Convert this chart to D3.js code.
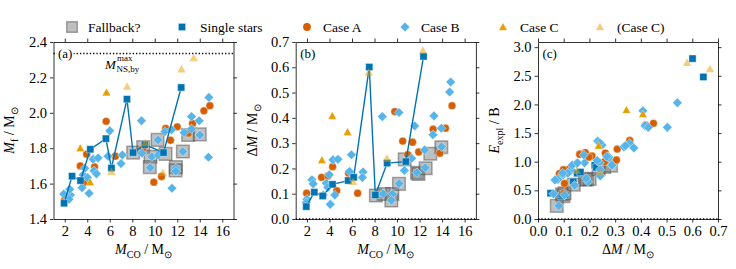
<!DOCTYPE html>
<html>
<head>
<meta charset="utf-8">
<style>
body { margin: 0; background: #fff; }
svg text { font-family: "Liberation Serif", "Times New Roman", Times, serif; fill: #000; }
.axis text { font-size: 14.5px; }
.axis path, .axis line { stroke: #000; stroke-width: 0.8px; }
</style>
</head>
<body>
<script src="https://cdn.jsdelivr.net/npm/d3@7"></script>
<script>

// ---- tick values ----
var mcoTicks = [2, 4, 6, 8, 10, 12, 14, 16];
var mfTicks = [1.4, 1.6, 1.8, 2.0, 2.2, 2.4];
var dmTicks = [0.0, 0.1, 0.2, 0.3, 0.4, 0.5, 0.6, 0.7];
var eTicks = [0.0, 0.5, 1.0, 1.5, 2.0, 2.5, 3.0];
var mNSmax = 2.335;

// ---- single stars (connected in a and b) ----
var singleMco = [1.94, 2.65, 3.4, 4.27, 5.66, 6.15, 7.53, 8.07, 9.12, 10.78, 12.35];
var singleMf  = [1.489, 1.642, 1.617, 1.794, 1.854, 1.688, 2.077, 1.775, 1.82, 1.775, 2.143];
var singleDm  = [0.049, 0.106, 0.091, 0.137, 0.152, 0.165, 0.601, 0.095, 0.221, 0.227, 0.643];
var singleE   = [0.45, 0.42, 0.40, 0.65, 0.80, 0.82, 2.80, 0.43, 0.94, 0.90, 2.48];

// ---- case A (circles) ----
var caseA_a = [[2.0,1.51],[3.38,1.70],[3.72,1.605],[3.95,1.766],[4.65,1.694],[5.68,1.952],[6.5,1.755],
  [8.95,1.797],[9.92,1.608],[10.6,1.64],[10.97,1.912],[11.4,1.845],[12.0,1.921],[13.0,1.885],
  [13.36,1.94],[14.37,2.011],[14.9,2.04]];
var caseA_b = [[1.97,0.102],[3.3,0.165],[3.86,0.17],[4.28,0.207],[4.64,0.112],[5.7,0.181],[6.5,0.102],
  [9.8,0.425],[10.5,0.308],[11.38,0.304],[10.94,0.254],[11.92,0.265],[13.2,0.355],[14.3,0.359],
  [14.88,0.448],[13.8,0.26]];
var caseA_c = [[0.418,1.64],[0.449,1.67],[0.357,1.37],[0.308,1.22],[0.262,1.15],[0.21,1.10],[0.162,1.13],
  [0.184,1.16],[0.305,1.03],[0.259,1.0],[0.198,1.08],[0.116,0.86],[0.103,0.62],[0.099,0.86],
  [0.083,0.79],[0.1,0.45],[0.27,1.08]];

// ---- case B (diamonds) ----
var caseB_a = [[1.91,1.541],[2.5,1.536],[2.38,1.512],[2.44,1.568],[3.54,1.577],[3.63,1.649],[3.78,1.687],
  [4.02,1.634],[4.16,1.545],[4.52,1.738],[4.6,1.672],[4.82,1.655],[4.96,1.745],[5.85,1.755],[6.0,1.898],
  [7.0,1.713],[7.12,1.762],[8.82,1.955],[8.87,1.772],[9.6,1.69],[9.74,1.752],[10.3,1.847],[10.32,1.762],
  [10.9,1.894],[11.49,1.904],[11.53,1.574],[11.87,1.687],[11.87,1.67],[12.5,1.781],[12.61,1.888],
  [13.27,1.979],[13.27,1.909],[13.95,1.955],[14.01,1.875],[14.81,2.087],[14.77,1.749]];
var caseB_b = [[2.0,0.078],[1.94,0.065],[2.44,0.155],[2.55,0.139],[3.45,0.095],[3.71,0.141],[3.85,0.125],
  [3.98,0.175],[4.07,0.058],[4.47,0.095],[4.31,0.234],[4.75,0.236],[5.95,0.254],[5.78,0.188],[6.98,0.186],
  [6.92,0.164],[8.69,0.405],[10.17,0.421],[8.75,0.1],[9.6,0.099],[9.5,0.074],[10.18,0.14],[10.65,0.192],
  [11.3,0.24],[11.57,0.368],[11.77,0.183],[12.45,0.273],[12.5,0.203],[13.19,0.333],[13.28,0.408],
  [13.93,0.359],[13.95,0.286],[14.67,0.502],[14.76,0.542]];
var caseB_c = [[0.542,2.03],[0.503,1.60],[0.408,1.89],[0.416,1.63],[0.429,1.60],[0.232,1.36],[0.249,1.29],
  [0.24,1.33],[0.334,1.26],[0.357,1.32],[0.373,1.24],[0.276,1.08],[0.24,0.98],[0.289,0.93],[0.149,0.97],
  [0.129,0.86],[0.097,0.77],[0.077,0.69],[0.181,0.98],[0.194,0.65],[0.188,0.71],[0.142,0.59],[0.06,0.44],
  [0.103,0.42],[0.081,0.23],[0.242,0.86],[0.242,0.75],[0.133,0.94],[0.116,0.80],[0.066,0.68],[0.178,1.12],
  [0.268,1.09],[0.23,1.02],[0.154,0.98],[0.34,1.28],[0.096,0.80],[0.288,0.94]];

// ---- case C (triangles) and tentative (Case C) ----
var caseC_a = [[3.38,1.80],[4.25,1.608],[5.71,2.115]];
var caseC_b = [[3.33,0.233],[4.25,0.408],[5.6,0.344]];
var caseC_c = [[0.236,1.28],[0.408,1.83],[0.344,1.905]];
var caseCq_a = [[6.15,1.668],[7.54,2.149],[9.15,1.83],[10.72,1.662],[12.38,2.247],[13.46,2.31]];
var caseCq_b = [[6.1,0.148],[7.5,0.58],[9.1,0.24],[12.3,0.667]];
var caseCq_c = [[0.151,0.845],[0.242,0.81],[0.58,2.73],[0.669,2.62]];

// ---- fallback? (large grey squares) ----
var fallback_a = [[8.08,1.775],[8.97,1.806],[9.62,1.752],[9.56,1.693],[10.25,1.847],[10.96,1.768],
  [11.88,1.693],[11.85,1.675],[12.5,1.781],[12.97,1.875],[14.0,1.878]];
var fallback_b = [[8.12,0.093],[8.81,0.099],[9.58,0.099],[9.49,0.073],[10.17,0.139],[10.68,0.236],
  [11.77,0.183],[11.9,0.178],[12.54,0.201],[12.95,0.258],[13.93,0.284]];
var fallback_c = [[0.093,0.43],[0.099,0.40],[0.103,0.45],[0.073,0.23],[0.139,0.60],[0.183,0.69],
  [0.19,0.69],[0.201,0.70],[0.236,0.87],[0.258,0.91],[0.284,0.93]];

var blue = "#0173B2", red = "#D55E00", sky = "#56B4E9", orange = "#E69F00", grey = "#808080";

var width = 736, height = 269;
var svg = d3.select("body").append("svg")
    .attr("width", width)
    .attr("height", height);

// marker paths
function squarePath(s) { return "M" + (-s) + "," + (-s) + "H" + s + "V" + s + "H" + (-s) + "Z"; }
function diamondPath(r) { return "M0," + (-r) + "L" + r + ",0L0," + r + "L" + (-r) + ",0Z"; }
function trianglePath(r) { return "M0," + (-r) + "L" + r + "," + (r * 0.8) + "L" + (-r) + "," + (r * 0.8) + "Z"; }

var styles = {
  fallback: { d: squarePath(6.3), fill: grey, fo: 0.5, stroke: "#444", so: 0.45, sw: 1.5 },
  single:   { d: squarePath(3.6), fill: blue, fo: 1, stroke: "#fff", so: 1, sw: 0.4 },
  caseA:    { d: null, r: 3.9, fill: red, fo: 1, stroke: "#fff", so: 1, sw: 0.4 },
  caseB:    { d: diamondPath(4.8), fill: sky, fo: 1, stroke: "#fff", so: 1, sw: 0.4 },
  caseC:    { d: trianglePath(4.2), fill: orange, fo: 1, stroke: "#fff", so: 1, sw: 0.3 },
  caseCq:   { d: trianglePath(4.2), fill: orange, fo: 0.5, stroke: "none", so: 0, sw: 0 }
};

function drawMarkers(g, pts, st, x, y) {
  var sel = g.append("g").selectAll("path").data(pts).enter();
  if (st.d === null) {
    sel.append("circle")
      .attr("cx", function(d) { return x(d[0]); })
      .attr("cy", function(d) { return y(d[1]); })
      .attr("r", st.r)
      .attr("fill", st.fill).attr("fill-opacity", st.fo)
      .attr("stroke", st.stroke).attr("stroke-width", st.sw);
  } else {
    sel.append("path")
      .attr("d", st.d)
      .attr("transform", function(d) { return "translate(" + x(d[0]) + "," + y(d[1]) + ")"; })
      .attr("fill", st.fill).attr("fill-opacity", st.fo)
      .attr("stroke", st.stroke).attr("stroke-opacity", st.so).attr("stroke-width", st.sw);
  }
}

// text with italic / sub pieces
function richText(t, parts) {
  parts.forEach(function(p) {
    var ts = t.append("tspan").text(p.t);
    if (p.it) ts.attr("font-style", "italic");
    if (p.sub) ts.attr("font-size", "72%").attr("dy", 3.5);
    if (p.back) ts.attr("dy", -3.5);
  });
  return t;
}

var single_a = singleMco.map(function(m, i) { return [m, singleMf[i]]; });
var single_b = singleMco.map(function(m, i) { return [m, singleDm[i]]; });
var single_c = singleDm.map(function(m, i) { return [m, singleE[i]]; });

var panels = [
  { tag: "(a)", x: d3.scaleLinear().domain([1, 17]).range([53.5, 233.5]),
    y: d3.scaleLinear().domain([1.4, 2.4]).range([219, 42]),
    xt: mcoTicks, yt: mfTicks, xf: d3.format("d"), yf: d3.format(".1f"),
    fb: fallback_a, A: caseA_a, B: caseB_a, C: caseC_a, Cq: caseCq_a, S: single_a, line: true,
    xl: [{t:"M", it:true},{t:"CO", sub:true},{t:" / M", back:true},{t:"\u2299", sub:true}],
    yl: [{t:"M", it:true},{t:"f", sub:true},{t:" / M", back:true},{t:"\u2299", sub:true}], ylx: 14 },
  { tag: "(b)", x: d3.scaleLinear().domain([1, 17]).range([295.7, 475.9]),
    y: d3.scaleLinear().domain([0, 0.7]).range([219, 42]),
    xt: mcoTicks, yt: dmTicks, xf: d3.format("d"), yf: d3.format(".1f"),
    fb: fallback_b, A: caseA_b, B: caseB_b, C: caseC_b, Cq: caseCq_b, S: single_b, line: true,
    xl: [{t:"M", it:true},{t:"CO", sub:true},{t:" / M", back:true},{t:"\u2299", sub:true}],
    yl: [{t:"\u0394"},{t:"M", it:true},{t:" / M"},{t:"\u2299", sub:true}], ylx: 257 },
  { tag: "(c)", x: d3.scaleLinear().domain([0, 0.7]).range([538, 718]),
    y: d3.scaleLinear().domain([0, 3.09]).range([219, 42]),
    xt: dmTicks, yt: eTicks, xf: d3.format(".1f"), yf: d3.format(".1f"),
    fb: fallback_c, A: caseA_c, B: caseB_c, C: caseC_c, Cq: caseCq_c, S: single_c, line: false,
    xl: [{t:"\u0394"},{t:"M", it:true},{t:" / M"},{t:"\u2299", sub:true}],
    yl: [{t:"E", it:true},{t:"expl", sub:true},{t:" / B", back:true}], ylx: 499 }
];

panels.forEach(function(p) {
  var g = svg.append("g");
  var x = p.x, y = p.y;
  var x0 = x.range()[0], x1 = x.range()[1], yb = y.range()[0], yt = y.range()[1];

  // reference dotted lines
  if (p.tag === "(a)") {
    g.append("line").attr("x1", x0).attr("x2", x1)
      .attr("y1", y(mNSmax)).attr("y2", y(mNSmax))
      .attr("stroke", "#000").attr("stroke-width", 1.3).attr("stroke-dasharray", "1.3,2");
    g.append("text").attr("x", 105).attr("y", 69).attr("font-size", "13px")
      .attr("font-style", "italic").text("M");
    g.append("text").attr("x", 117).attr("y", 61).attr("font-size", "9px").text("max");
    g.append("text").attr("x", 116.5).attr("y", 72).attr("font-size", "9px").text("NS,by");
  } else {
    g.append("line").attr("x1", x0).attr("x2", x1)
      .attr("y1", y(0)).attr("y2", y(0))
      .attr("stroke", "#000").attr("stroke-width", 1.3).attr("stroke-dasharray", "1.3,2");
  }

  drawMarkers(g, p.fb, styles.fallback, x, y);
  if (!p.line) drawMarkers(g, p.S, styles.single, x, y);
  drawMarkers(g, p.A, styles.caseA, x, y);
  drawMarkers(g, p.B, styles.caseB, x, y);
  drawMarkers(g, p.C, styles.caseC, x, y);
  if (p.line) {
    g.append("path").datum(p.S)
      .attr("d", d3.line().x(function(d) { return x(d[0]); }).y(function(d) { return y(d[1]); }))
      .attr("fill", "none").attr("stroke", blue).attr("stroke-width", 1.4);
    drawMarkers(g, p.S, styles.single, x, y);
  }
  drawMarkers(g, p.Cq, styles.caseCq, x, y);

  // axes, ticks outward on all sides
  g.append("g").attr("class", "axis").attr("transform", "translate(0," + yb + ")")
    .call(d3.axisBottom(x).tickValues(p.xt).tickFormat(p.xf).tickSize(3.5).tickSizeOuter(0).tickPadding(3));
  g.append("g").attr("class", "axis").attr("transform", "translate(0," + yt + ")")
    .call(d3.axisTop(x).tickValues(p.xt).tickFormat("").tickSize(3.5).tickSizeOuter(0));
  g.append("g").attr("class", "axis").attr("transform", "translate(" + x0 + ",0)")
    .call(d3.axisLeft(y).tickValues(p.yt).tickFormat(p.yf).tickSize(3.5).tickSizeOuter(0).tickPadding(3));
  g.append("g").attr("class", "axis").attr("transform", "translate(" + x1 + ",0)")
    .call(d3.axisRight(y).tickValues(p.yt).tickFormat("").tickSize(3.5).tickSizeOuter(0));
  g.selectAll(".axis").attr("font-family", null);

  // panel tag with white box
  g.append("rect").attr("x", x0 + 3).attr("y", yt + 5).attr("width", 17).attr("height", 14).attr("fill", "#fff");
  g.append("text").attr("x", x0 + 4.5).attr("y", yt + 15.5).attr("font-size", "13px").text(p.tag);

  // axis labels
  richText(g.append("text").attr("x", (x0 + x1) / 2).attr("y", 254)
    .attr("text-anchor", "middle").attr("font-size", "14px"), p.xl);
  richText(g.append("text").attr("transform", "translate(" + p.ylx + "," + ((yb + yt) / 2) + ") rotate(-90)")
    .attr("text-anchor", "middle").attr("font-size", "14px"), p.yl);
});

// legend
var legend = [
  { label: "Fallback?", st: styles.fallback, mx: 72, tx: 88, d: squarePath(5.3) },
  { label: "Single stars", st: styles.single, mx: 182, tx: 200 },
  { label: "Case A", st: styles.caseA, mx: 307, tx: 323 },
  { label: "Case B", st: styles.caseB, mx: 405, tx: 421 },
  { label: "Case C", st: styles.caseC, mx: 503, tx: 520 },
  { label: "(Case C)", st: styles.caseCq, mx: 600, tx: 617 }
];
var lg = svg.append("g");
legend.forEach(function(l) {
  var st = l.st;
  if (st.d === null) {
    lg.append("circle").attr("cx", l.mx).attr("cy", 27).attr("r", st.r).attr("fill", st.fill);
  } else {
    lg.append("path").attr("d", l.d || st.d).attr("transform", "translate(" + l.mx + ",27)")
      .attr("fill", st.fill).attr("fill-opacity", st.fo)
      .attr("stroke", st.stroke).attr("stroke-opacity", st.so).attr("stroke-width", st.sw);
  }
  lg.append("text").attr("x", l.tx).attr("y", 31.5).attr("font-size", "13.5px").text(l.label);
});

</script>
</body>
</html>
